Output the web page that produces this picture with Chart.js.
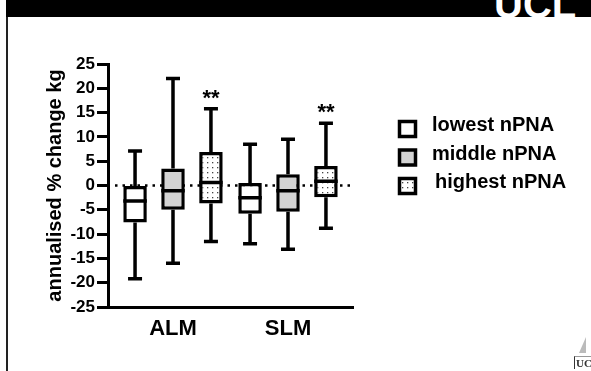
<!DOCTYPE html>
<html>
<head>
<meta charset="utf-8">
<script src="https://cdn.jsdelivr.net/npm/chart.js@4.4.0/dist/chart.umd.min.js"></script>
<style>
  html, body { margin: 0; padding: 0; background: #fff; }
  #wrap { position: relative; width: 591px; height: 371px; overflow: hidden; }
  #bar { position: absolute; left: 6px; top: 0; width: 585px; height: 17px; background: #000; overflow: hidden; }
  #bar span { position: absolute; left: 488px; top: -16px; font: bold 40px "Liberation Sans", Arial, sans-serif; color: #fff; line-height: 40px; }
  #edge { position: absolute; left: 6px; top: 17px; width: 2px; height: 354px; background: #222; }
  #logo { position: absolute; left: 574px; top: 335px; width: 17px; height: 36px; }
  #logo .tri { position: absolute; left: 5px; top: 2px; width: 0; height: 0; border-left: 7px solid transparent; border-bottom: 16px solid #bbb; }
  #logo .txt { position: absolute; left: 0; top: 21px; font: bold 11px "Liberation Serif", serif; color: #333; border-left: 1px solid #333; border-top: 1px solid #999; padding-left: 1px; }
  canvas { position: absolute; left: 0; top: 0; }
</style>
</head>
<body>
<div id="wrap">
  <canvas id="c" width="591" height="371"></canvas>
  <div id="bar"><span>UCL</span></div>
  <div id="edge"></div>
  <div id="logo"><div class="tri"></div><div class="txt">UCL</div></div>
</div>
<script>
// categories on the x axis
var categories = ["ALM", "SLM"]
var groups = ["lowest nPNA", "middle nPNA", "highest nPNA"]

// box plot values per group, one entry per category
var lowestMin = [-19.2, -12.0]
var lowestQ1  = [-7.6, -5.8]
var lowestMed = [-3.2, -2.5]
var lowestQ3  = [-0.1, 0.5]
var lowestMax = [7.1, 8.5]

var middleMin = [-16.0, -13.1]
var middleQ1  = [-5.0, -5.4]
var middleMed = [-1.1, -1.1]
var middleQ3  = [3.5, 2.3]
var middleMax = [22.0, 9.5]

var highestMin = [-11.5, -8.8]
var highestQ1  = [-3.7, -2.4]
var highestMed = [0.6, 0.9]
var highestQ3  = [6.9, 4.0]
var highestMax = [15.8, 12.8]

// significance marks
var lowestSig = ["", ""]
var middleSig = ["", ""]
var highestSig = ["**", "**"]

var yTicks = [-25, -20, -15, -10, -5, 0, 5, 10, 15, 20, 25]

var FONT = "'Liberation Sans', Arial, sans-serif"

// dotted fill for the highest group
var pc = document.createElement("canvas")
pc.width = 5; pc.height = 5
var pctx = pc.getContext("2d")
pctx.fillStyle = "#fff"
pctx.fillRect(0, 0, 5, 5)
pctx.fillStyle = "#444"
pctx.fillRect(2, 2, 1.3, 1.3)
var dots = pctx.createPattern(pc, "repeat")

var stats = [
  { min: lowestMin, q1: lowestQ1, med: lowestMed, q3: lowestQ3, max: lowestMax, sig: lowestSig, fill: "#fff" },
  { min: middleMin, q1: middleQ1, med: middleMed, q3: middleQ3, max: middleMax, sig: middleSig, fill: "#d3d3d3" },
  { min: highestMin, q1: highestQ1, med: highestMed, q3: highestQ3, max: highestMax, sig: highestSig, fill: dots }
]

const datasets = stats.map((s, k) => ({
  label: groups[k],
  data: categories.map((c, i) => ({ x: i + 1, y: [s.q1[i], s.q3[i]] })),
  backgroundColor: s.fill,
  borderColor: "#000",
  borderWidth: 3.5,
  borderSkipped: false,
  categoryPercentage: 0.99,
  barPercentage: 0.62
}))

const boxPlugin = {
  id: "boxes",
  beforeDatasetsDraw(chart) {
    const { ctx, chartArea, scales } = chart
    const y0 = scales.y.getPixelForValue(0)
    ctx.save()
    ctx.strokeStyle = "#000"
    ctx.lineWidth = 2.5
    ctx.setLineDash([2.5, 5])
    ctx.beginPath()
    ctx.moveTo(chartArea.left + 7, y0)
    ctx.lineTo(chartArea.right, y0)
    ctx.stroke()
    ctx.restore()
  },
  afterDatasetsDraw(chart) {
    const { ctx, scales } = chart
    const ys = scales.y
    ctx.save()
    ctx.strokeStyle = "#000"
    ctx.lineWidth = 3.5
    stats.forEach((s, k) => {
      const meta = chart.getDatasetMeta(k)
      meta.data.forEach((el, i) => {
        const p = el.getProps(["x", "width"], true)
        const x = p.x, w = p.width
        const yMin = ys.getPixelForValue(s.min[i])
        const yMax = ys.getPixelForValue(s.max[i])
        const yQ1 = ys.getPixelForValue(s.q1[i])
        const yQ3 = ys.getPixelForValue(s.q3[i])
        const yMed = ys.getPixelForValue(s.med[i])
        ctx.beginPath()
        ctx.moveTo(x, yMax); ctx.lineTo(x, yQ3)
        ctx.moveTo(x, yQ1); ctx.lineTo(x, yMin)
        ctx.moveTo(x - 7, yMax); ctx.lineTo(x + 7, yMax)
        ctx.moveTo(x - 7, yMin); ctx.lineTo(x + 7, yMin)
        ctx.moveTo(x - w / 2, yMed); ctx.lineTo(x + w / 2, yMed)
        ctx.stroke()
        if (s.sig[i]) {
          ctx.fillStyle = "#000"
          ctx.font = "bold 22px " + FONT
          ctx.textAlign = "center"
          ctx.textBaseline = "alphabetic"
          ctx.fillText(s.sig[i], x, yMax - 4)
        }
      })
    })
    ctx.restore()
  },
  afterDraw(chart) {
    // legend
    const { ctx } = chart
    ctx.save()
    stats.forEach((s, k) => {
      const top = 120 + k * 28.5
      ctx.fillStyle = s.fill
      ctx.fillRect(399, top + 1.5, 16, 15)
      ctx.strokeStyle = "#000"
      ctx.lineWidth = 3.5
      ctx.strokeRect(399.5, top + 1.5, 16, 15)
      ctx.fillStyle = "#000"
      ctx.font = "bold 20px " + FONT
      ctx.textAlign = "left"
      ctx.textBaseline = "alphabetic"
      ctx.fillText(groups[k], 432 + (k === 2 ? 3 : 0), top + 11)
    })
    ctx.restore()
  }
}

new Chart(document.getElementById("c"), {
  type: "bar",
  data: { datasets: datasets },
  options: {
    responsive: false,
    animation: false,
    devicePixelRatio: 1,
    layout: { padding: { left: 0, top: 64, right: 238, bottom: 0 } },
    plugins: { legend: { display: false }, tooltip: { enabled: false } },
    scales: {
      x: {
        type: "linear",
        min: 0.4348,
        max: 2.5652,
        offset: false,
        bounds: "data",
        afterFit: (s) => { s.height = 64 },
        afterBuildTicks: (s) => { s.ticks = categories.map((c, i) => ({ value: i + 1 })) },
        grid: { display: false, drawTicks: false, offset: false },
        border: { display: true, width: 3, color: "#000" },
        ticks: {
          padding: 9,
          color: "#000",
          font: { family: FONT, size: 22, weight: "bold" },
          callback: (v) => categories[v - 1]
        }
      },
      y: {
        min: -25,
        max: 25,
        afterFit: (s) => { s.width = 108 },
        afterBuildTicks: (s) => { s.ticks = yTicks.map(v => ({ value: v })) },
        grid: { drawOnChartArea: false, drawTicks: true, tickLength: 11, tickWidth: 3, tickColor: "#000" },
        border: { display: true, width: 3, color: "#000" },
        ticks: {
          padding: 2,
          color: "#000",
          font: { family: FONT, size: 17, weight: "bold" }
        },
        title: {
          display: true,
          text: "annualised % change kg",
          color: "#000",
          font: { family: FONT, size: 20, weight: "bold" },
          padding: { top: 43, bottom: 0 }
        }
      }
    }
  },
  plugins: [boxPlugin]
})
</script>
</body>
</html>
